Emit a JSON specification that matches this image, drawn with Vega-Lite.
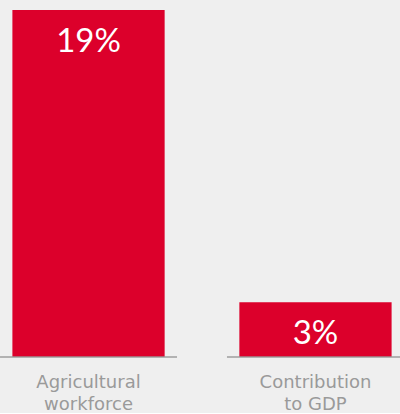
{
  "$schema": "https://vega.github.io/schema/vega-lite/v6.json",
  "width": 404,
  "height": 347,
  "padding": {"top": 10, "left": 0, "right": 0, "bottom": 0},
  "background": "#efefef",
  "config": {"view": {"stroke": null}, "font": "Lato"},
  "data": {"values": [
    {"category": "Agricultural|workforce", "value": 19, "label": "19%"},
    {"category": "Contribution|to GDP", "value": 3, "label": "3%"}
  ]},
  "encoding": {
    "x": {
      "field": "category", "type": "nominal", "sort": null,
      "scale": {"paddingInner": 0.22, "paddingOuter": 0},
      "axis": {
        "title": null, "domain": false, "ticks": false, "labelAngle": 0,
        "labelExpr": "split(datum.value, '|')",
        "labelFont": "DejaVu Sans", "labelFontSize": 18, "labelFontWeight": "normal", "labelColor": "#9a9a9a",
        "labelLineHeight": 22, "labelPadding": 16, "labelBaseline": "top"
      }
    }
  },
  "layer": [
    {
      "mark": {"type": "bar", "color": "#dc002b", "width": {"band": 0.86}},
      "encoding": {
        "y": {"field": "value", "type": "quantitative", "scale": {"domain": [0, 19], "nice": false}, "axis": null}
      }
    },
    {
      "mark": {"type": "tick", "color": "#999999", "thickness": 2, "size": 177, "orient": "horizontal"},
      "encoding": {
        "y": {"datum": 0, "type": "quantitative"}
      }
    },
    {
      "mark": {"type": "text", "color": "#ffffff", "fontSize": 33, "font": "Lato", "baseline": "alphabetic", "dy": 42},
      "encoding": {
        "y": {"field": "value", "type": "quantitative"},
        "text": {"field": "label"}
      }
    }
  ]
}
